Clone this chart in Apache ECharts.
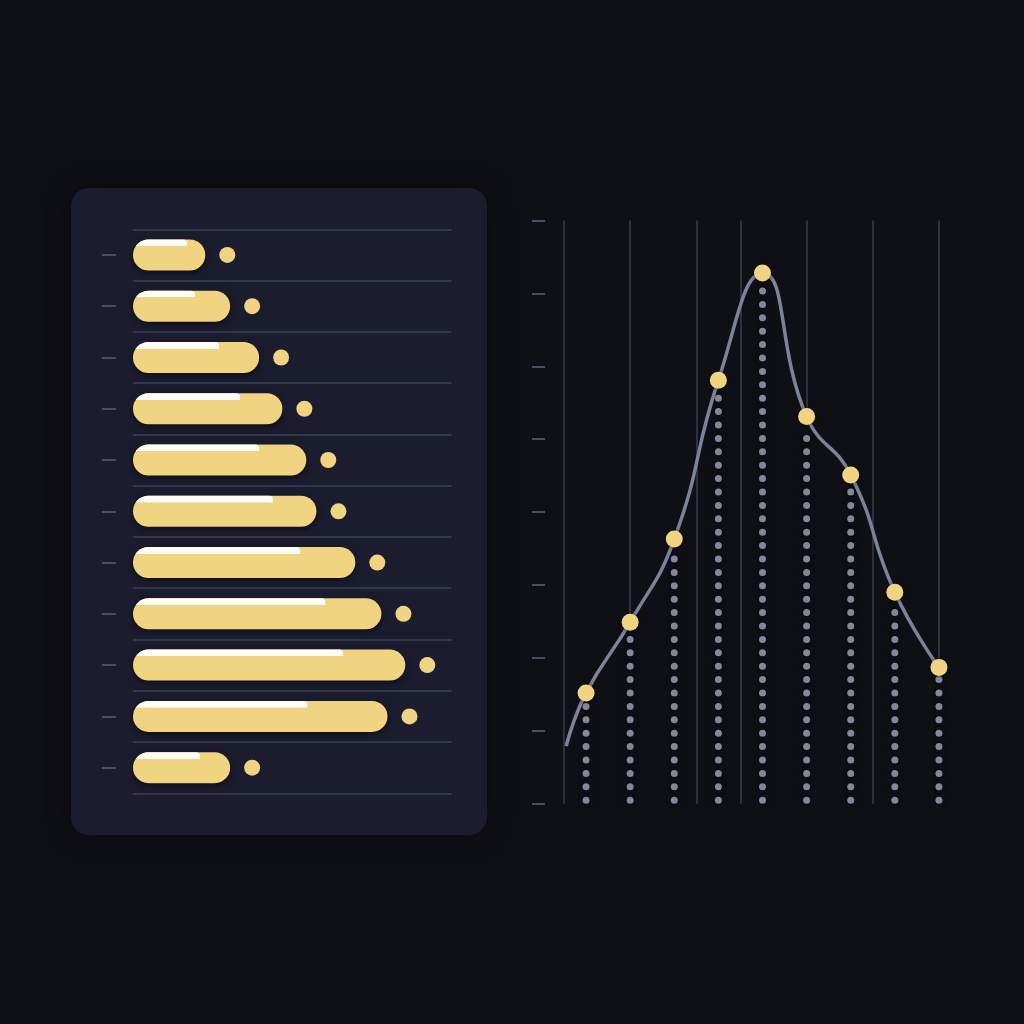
<!DOCTYPE html>
<html>
<head>
<meta charset="utf-8">
<script src="https://cdn.jsdelivr.net/npm/echarts@6/dist/echarts.min.js"></script>
<style>
html,body{margin:0;padding:0;background:#0f0f16;}
#c{width:1024px;height:1024px;}
</style>
</head>
<body>
<div id="c"></div>
<script>
// ---- Left panel: horizontal bars ----
const barCategories = ['R1','R2','R3','R4','R5','R6','R7','R8','R9','R10','R11'];
const barValues = [22.7, 30.5, 39.6, 46.9, 54.4, 57.6, 69.8, 78.0, 85.5, 79.9, 30.5];
const highlightValues = [17.0, 19.5, 27.0, 33.6, 39.6, 44.0, 52.5, 60.4, 66.0, 54.7, 21.0];

// ---- Right panel: smoothed line with dotted columns ----
const lineCategories = ['P1','P2','P3','P4','P5','P6','P7','P8','P9'];
const lineValues = [1.52, 2.49, 3.63, 5.81, 7.28, 5.31, 4.51, 2.90, 1.87];
const lineStart = [-0.45, 0.79];
const verticalGridX = [-0.5, 1, 2.5, 3.5, 5, 6.5, 8];

const YELLOW = '#f0d482';
const GRAY_LINE = '#7c8297';
const DOT = '#82879b';
const TICK = '#4a4f61';
const Y_MAX = 8;

const chart = echarts.init(document.getElementById('c'), null, {renderer: 'canvas'});

const lineData = [{value: lineStart, symbol: 'none'}].concat(
  lineValues.map((v, i) => ({value: [i, v]}))
);

// vertical grid lines: those that fall on a dotted column stop at its point
const gridLineData = verticalGridX.map(x => {
  const onColumn = Number.isInteger(x) && x >= 0 && x < lineValues.length;
  const endY = onColumn ? lineValues[x] : 0;
  return [{coord: [x, Y_MAX]}, {coord: [x, endY]}];
});

const option = {
  backgroundColor: '#0f0f16',
  animation: false,
  graphic: [{
    type: 'rect', z: -10, silent: true,
    shape: {x: 71, y: 188, width: 416, height: 647, r: 18},
    style: {fill: '#1b1c2e', shadowBlur: 24, shadowColor: 'rgba(0,0,0,0.45)'}
  }],
  grid: [
    {left: 133, top: 229.3, width: 318.5, height: 564, containLabel: false},
    {left: 564, top: 220.5, width: 397, height: 583.2, containLabel: false}
  ],
  xAxis: [
    {gridIndex: 0, type: 'value', min: 0, max: 100, show: false, splitLine: {show: false}},
    {gridIndex: 1, type: 'value', min: -0.5, max: 8.5, show: false, splitLine: {show: false}},
    {gridIndex: 1, type: 'category', data: lineCategories, boundaryGap: true, show: false, splitLine: {show: false}}
  ],
  yAxis: [
    {
      gridIndex: 0, type: 'category', data: barCategories, inverse: true,
      offset: 17,
      axisLine: {show: false, onZero: false},
      axisLabel: {show: false},
      axisTick: {show: true, alignWithLabel: true, interval: 0, length: 14, lineStyle: {color: TICK, width: 2}},
      splitLine: {show: true, interval: 0, lineStyle: {color: '#3c4154', width: 1.5}}
    },
    {
      gridIndex: 1, type: 'value', min: 0, max: Y_MAX, interval: 1,
      offset: 19,
      axisLine: {show: false, onZero: false},
      axisLabel: {show: false},
      axisTick: {show: true, length: 13, lineStyle: {color: TICK, width: 2}},
      splitLine: {show: false}
    }
  ],
  series: [
    {
      type: 'bar', xAxisIndex: 0, yAxisIndex: 0,
      data: barValues, barWidth: 31, barGap: '-100%', z: 3,
      itemStyle: {
        color: YELLOW, borderRadius: 15.5,
        shadowBlur: 6, shadowOffsetY: 2, shadowColor: 'rgba(0,0,0,0.55)'
      }
    },
    {
      type: 'bar', xAxisIndex: 0, yAxisIndex: 0,
      data: highlightValues, barWidth: 31, barGap: '-100%', z: 4,
      itemStyle: {
        borderRadius: [15.5, 4, 4, 15.5],
        color: {
          type: 'linear', x: 0, y: 0, x2: 0, y2: 1,
          colorStops: [
            {offset: 0, color: '#fffdf5'},
            {offset: 0.21, color: '#fffdf5'},
            {offset: 0.22, color: 'rgba(255,255,255,0)'},
            {offset: 1, color: 'rgba(255,255,255,0)'}
          ]
        }
      }
    },
    {
      type: 'scatter', xAxisIndex: 0, yAxisIndex: 0,
      data: barValues.map((v, i) => [v, i]),
      symbol: 'circle', symbolSize: 16, symbolOffset: [22, 0], z: 4,
      itemStyle: {color: YELLOW, opacity: 1}
    },
    {
      type: 'line', xAxisIndex: 1, yAxisIndex: 1, data: [], z: 1,
      markLine: {
        silent: true, symbol: 'none', animation: false,
        label: {show: false},
        lineStyle: {color: '#383d4d', width: 1.5, type: 'solid'},
        emphasis: {disabled: true},
        data: gridLineData
      }
    },
    {
      type: 'pictorialBar', xAxisIndex: 2, yAxisIndex: 1,
      data: lineValues.map(v => v - 0.28), z: 3,
      symbol: 'circle', symbolSize: 7, symbolRepeat: true, symbolMargin: 3.25,
      barWidth: 14,
      itemStyle: {color: DOT, shadowBlur: 4, shadowColor: 'rgba(0,0,0,0.8)'}
    },
    {
      type: 'line', xAxisIndex: 1, yAxisIndex: 1,
      data: lineData, smooth: 0.5, z: 5,
      symbol: 'circle', symbolSize: 17, showSymbol: true,
      lineStyle: {color: GRAY_LINE, width: 3.5},
      itemStyle: {color: YELLOW, opacity: 1, shadowBlur: 4, shadowColor: 'rgba(0,0,0,0.5)'}
    }
  ]
};
chart.setOption(option);
</script>
</body>
</html>
